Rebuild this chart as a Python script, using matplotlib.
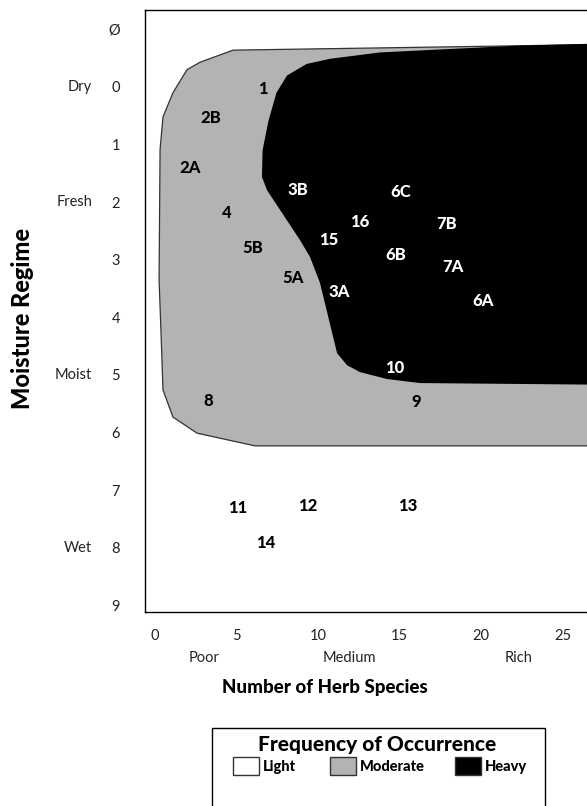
import matplotlib
matplotlib.use("Agg")
import matplotlib.pyplot as plt
from matplotlib.patches import Polygon, Rectangle

# ---------------- data ----------------
y_ticks = [-1, 0, 1, 2, 3, 4, 5, 6, 7, 8, 9]
y_tick_labels = ["Ø", "0", "1", "2", "3", "4", "5", "6", "7", "8", "9"]
y_regime_pos = [0, 2, 5, 8]
y_regime_labels = ["Dry", "Fresh", "Moist", "Wet"]

x_ticks = [0, 5, 10, 15, 20, 25]
x_tick_labels = ["0", "5", "10", "15", "20", "25"]
x_rich_pos = [3, 11.9, 22.3]
x_rich_labels = ["Poor", "Medium", "Rich"]

# moderate (gray) zone outline: (herb species, moisture)
moderate_x = [4.79, 2.76, 1.96, 1.10, 0.49, 0.31, 0.25, 0.37, 0.49, 1.10, 2.58, 6.13, 28.0, 28.0]
moderate_y = [-0.64, -0.43, -0.30, 0.10, 0.52, 1.09, 3.35, 4.27, 5.26, 5.73, 6.01, 6.23, 6.23, -0.74]

# heavy (black) zone outline
heavy_x = [10.74, 9.30, 8.10, 7.45, 6.95, 6.60, 6.56, 6.87, 8.90, 9.51, 10.12, 11.17, 11.78, 12.58, 14.23,
           16.26, 28.0, 28.0, 22.4, 18.1, 13.8]
heavy_y = [-0.49, -0.40, -0.20, 0.10, 0.60, 1.10, 1.56, 1.79, 2.66, 2.95, 3.40, 4.62, 4.83, 4.95, 5.07,
           5.14, 5.17, -0.76, -0.72, -0.66, -0.60]

# ecosite labels
site_labels = ["1", "2B", "2A", "4", "5B", "5A", "3B", "15", "16", "6C", "7B", "6B", "7A", "3A", "6A",
               "10", "9", "8", "11", "12", "13", "14"]
site_x = [6.63, 3.44, 2.15, 4.42, 6.01, 8.47, 8.77, 10.67, 12.58, 15.09, 17.91, 14.79, 18.28, 11.29, 20.12,
          14.72, 16.01, 3.25, 5.09, 9.39, 15.52, 6.81]
site_y = [0.03, 0.54, 1.41, 2.19, 2.80, 3.32, 1.79, 2.66, 2.34, 1.82, 2.38, 2.92, 3.13, 3.56, 3.72,
          4.88, 5.47, 5.45, 7.31, 7.27, 7.27, 7.92]
site_zone = ["M", "M", "M", "M", "M", "M", "H", "H", "H", "H", "H", "H", "H", "H", "H",
             "H", "M", "M", "L", "L", "L", "L"]

legend_labels = ["Light", "Moderate", "Heavy"]
legend_colors = ["#ffffff", "#b3b3b3", "#000000"]

# ---------------- figure ----------------
W, H = 587, 806
fig = plt.figure(figsize=(W / 100, H / 100), dpi=100)

light_font = dict(family=["Lato", "DejaVu Sans"], weight="normal")
bold_font = dict(family=["Lato", "DejaVu Sans"], weight="black")

ax_left, ax_top, ax_bottom = 145, 10, 612
ax = fig.add_axes([ax_left / W, 1 - ax_bottom / H, 1 - ax_left / W, (ax_bottom - ax_top) / H])
px_per_x = 16.3
px_per_y = 57.6
ax.set_xlim(-(155 - ax_left) / px_per_x, (W - 155) / px_per_x)
ax.set_ylim((ax_bottom - 87) / px_per_y, (ax_top - 87) / px_per_y)

for s in ["left", "top", "bottom"]:
    ax.spines[s].set_linewidth(1.0)
ax.spines["right"].set_visible(False)

ax.add_patch(Polygon(list(zip(moderate_x, moderate_y)), closed=True, facecolor="#b3b3b3",
                     edgecolor="#333333", linewidth=0.9, zorder=1))
ax.add_patch(Polygon(list(zip(heavy_x, heavy_y)), closed=True, facecolor="#000000",
                     edgecolor="none", zorder=2))

for lab, x, y, z in zip(site_labels, site_x, site_y, site_zone):
    ax.text(x, y, lab, ha="center", va="center", fontsize=12,
            color="white" if z == "H" else "black", zorder=3, **bold_font)

ax.set_yticks(y_ticks)
ax.set_yticklabels(y_tick_labels, fontsize=10.5, color="#222222", **light_font)
ax.tick_params(axis="y", length=0, pad=18)
ax.set_xticks(x_ticks)
ax.set_xticklabels(x_tick_labels, fontsize=10.5, color="#222222", **light_font)
ax.tick_params(axis="x", length=0, pad=12)

# regime labels on y
for p, lab in zip(y_regime_pos, y_regime_labels):
    ax.annotate(lab, xy=(0, p), xycoords=("axes fraction", "data"), xytext=(-38, 0),
                textcoords="offset points", ha="right", va="center", fontsize=10.5,
                color="#222222", **light_font)
# richness labels on x
for p, lab in zip(x_rich_pos, x_rich_labels):
    ax.annotate(lab, xy=(p, 0), xycoords=("data", "axes fraction"), xytext=(0, -33),
                textcoords="offset points", ha="center", va="center", fontsize=10.5,
                color="#222222", **light_font)

fig.text(23 / W, 1 - 318 / H, "Moisture Regime", rotation=90, ha="center", va="center",
         fontsize=17, **bold_font)
fig.text(325 / W, 1 - 687 / H, "Number of Herb Species", ha="center", va="center",
         fontsize=13.5, **bold_font)

# ---------------- legend box ----------------
fig.patches.append(Rectangle((212 / W, 1 - 830 / H), (545 - 212) / W, (830 - 728) / H,
                             transform=fig.transFigure, facecolor="white", edgecolor="black",
                             linewidth=1.0))
fig.text(377 / W, 1 - 745 / H, "Frequency of Occurrence", ha="center", va="center",
         fontsize=15, **bold_font)
sw_x = [233, 330, 455]
for sx, lab, col in zip(sw_x, legend_labels, legend_colors):
    fig.patches.append(Rectangle((sx / W, 1 - 775 / H), 26 / W, 18 / H, transform=fig.transFigure,
                                 facecolor=col, edgecolor="#333333", linewidth=1.0))
    fig.text((sx + 30) / W, 1 - 767 / H, lab, ha="left", va="center", fontsize=10.5, **bold_font)

fig.savefig("out.png", dpi=100)
